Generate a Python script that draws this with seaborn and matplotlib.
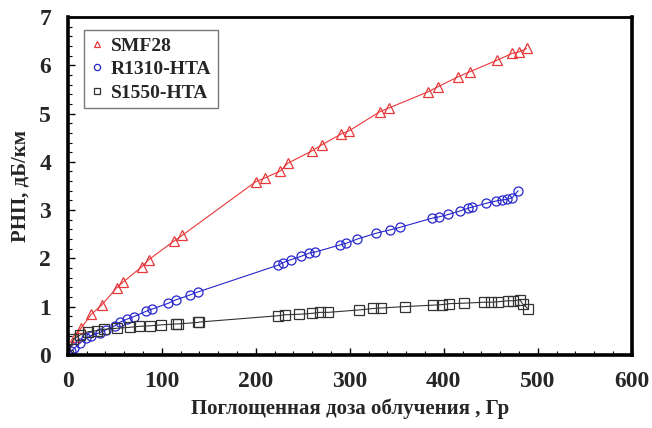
import numpy as np
import pandas as pd
import matplotlib
matplotlib.use('Agg')
import matplotlib.pyplot as plt
from matplotlib.lines import Line2D
from matplotlib.ticker import MultipleLocator
import seaborn as sns

# --- data ---
smf_dose = [0, 8, 14, 25, 36, 52, 59, 79, 86, 113, 122,
            200, 210, 226, 234, 260, 270, 291, 299,
            332, 342, 383, 394, 415, 428, 457, 473, 480, 488]
smf_rni = [0.0, 0.37, 0.55, 0.84, 1.03, 1.39, 1.51, 1.83, 1.97, 2.36, 2.48,
           3.59, 3.67, 3.81, 3.97, 4.23, 4.35, 4.58, 4.64,
           5.04, 5.12, 5.45, 5.56, 5.76, 5.87, 6.11, 6.25, 6.28, 6.35]

r1310_dose = [0, 3, 7, 13, 19, 25, 34, 41, 50, 55, 63, 70, 83, 90, 107, 115,
              130, 138, 224, 229, 237, 248, 257, 263, 290, 296, 308, 328,
              343, 353, 387, 395, 405, 417, 426, 430, 445, 456, 462, 467,
              473, 479]
r1310_rni = [0.0, 0.07, 0.14, 0.24, 0.34, 0.40, 0.46, 0.52, 0.60, 0.67, 0.74,
             0.79, 0.90, 0.95, 1.07, 1.14, 1.24, 1.30, 1.86, 1.91, 1.97, 2.04,
             2.11, 2.13, 2.28, 2.31, 2.40, 2.52, 2.59, 2.64, 2.83, 2.86, 2.91,
             2.98, 3.04, 3.06, 3.14, 3.19, 3.21, 3.22, 3.26, 3.40]

s1550_dose = [0, 6, 13, 22, 31, 39, 52, 66, 76, 87, 99, 115, 117, 138, 140,
              224, 231, 246, 260, 268, 277, 310, 325, 333, 359, 389, 398,
              406, 421, 443, 450, 458, 468, 474, 481, 484, 490]
s1550_rni = [0.0, 0.33, 0.41, 0.48, 0.50, 0.53, 0.55, 0.57, 0.59, 0.60, 0.62,
             0.64, 0.64, 0.67, 0.68, 0.81, 0.83, 0.84, 0.86, 0.88, 0.88, 0.93,
             0.96, 0.97, 1.00, 1.03, 1.04, 1.06, 1.07, 1.09, 1.09, 1.10, 1.12,
             1.12, 1.14, 1.05, 0.95]

labels = ['SMF28', 'R1310-HTA', 'S1550-HTA']
colors = ['#e8383a', '#2626cc', '#333333']
markers = ['^', 'o', 's']

series = [(smf_dose, smf_rni), (r1310_dose, r1310_rni), (s1550_dose, s1550_rni)]

sns.set_style('ticks')
plt.rcParams['font.family'] = ['Liberation Serif', 'DejaVu Serif']
plt.rcParams['font.weight'] = 'bold'

fig = plt.figure(figsize=(6.52, 4.28), dpi=100)
ax = fig.add_axes([0.104, 0.171, 0.865, 0.789])

for (xs, ys), lab, col, mk in zip(series, labels, colors, markers):
    df = pd.DataFrame({'dose': xs, 'rni': ys})
    sns.lineplot(data=df, x='dose', y='rni', ax=ax, sort=False,
                 color=col, linewidth=0.8, marker=mk, markersize=6.5,
                 markerfacecolor='none', markeredgecolor=col,
                 markeredgewidth=0.9)

ax.set_xlim(0, 600)
ax.set_ylim(0, 7)
ax.xaxis.set_major_locator(MultipleLocator(100))
ax.xaxis.set_minor_locator(MultipleLocator(20))
ax.yaxis.set_major_locator(MultipleLocator(1))
ax.yaxis.set_minor_locator(MultipleLocator(0.2))
ax.tick_params(which='both', direction='in', color='black')
ax.tick_params(which='major', length=5, width=1, labelsize=17)
ax.tick_params(axis='x', which='major', pad=12)
ax.tick_params(axis='y', which='major', pad=12)
ax.tick_params(which='minor', length=3, width=0.8)
for lab in ax.get_xticklabels() + ax.get_yticklabels():
    lab.set_fontweight('bold')

for side in ['left', 'bottom', 'right']:
    ax.spines[side].set_linewidth(2.6)
    ax.spines[side].set_color('black')
ax.spines['top'].set_linewidth(2.0)
ax.spines['top'].set_color('black')

ax.set_xlabel('Поглощенная доза облучения , Гр', fontsize=15,
              fontweight='bold', labelpad=4)
ax.set_ylabel('РНП, дБ/км', fontsize=15, fontweight='bold', labelpad=6)

handles = [Line2D([], [], linestyle='none', marker=mk, markersize=4.5,
                  markerfacecolor='none', markeredgecolor=col,
                  markeredgewidth=0.9)
           for col, mk in zip(colors, markers)]
leg = ax.legend(handles, labels, loc='upper left', bbox_to_anchor=(0.012, 0.99),
                prop={'weight': 'bold', 'size': 14}, frameon=True,
                fancybox=False, edgecolor='#555555', handlelength=0.6,
                handletextpad=0.4, borderpad=0.35, labelspacing=0.3)
leg.get_frame().set_linewidth(1.0)

fig.savefig('out.png', dpi=100)
